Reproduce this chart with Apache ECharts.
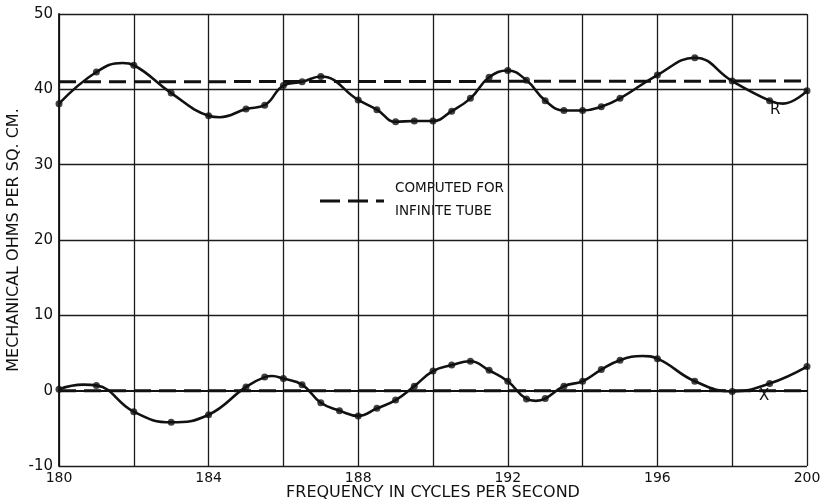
<!DOCTYPE html>
<html><head><meta charset="utf-8">
<script src="https://cdn.jsdelivr.net/npm/echarts@6/dist/echarts.min.js"></script>
<style>html,body{margin:0;padding:0;background:#fff}#c{width:829px;height:503px}</style>
</head><body><div id="c"></div>
<script>
// Measured resistance R (dots)
const freqR = [180,181,182,183,184,185,185.5,186,186.5,187,188,188.5,189,189.5,190,190.5,191,191.5,192,192.5,193,193.5,194,194.5,195,196,197,198,199,200];
const valR  = [38.1,42.3,43.2,39.5,36.5,37.4,37.9,40.5,41.0,41.7,38.6,37.3,35.7,35.8,35.8,37.1,38.8,41.6,42.5,41.2,38.5,37.2,37.2,37.7,38.8,41.9,44.2,41.1,38.5,39.8];
// extra points read on the drawn R curve (peaks/troughs between dots)
const freqRCurve = [181.7,184.3,199.35];
const valRCurve  = [43.5,36.3,38.1];

// Measured reactance X (dots)
const freqX = [180,181,182,183,184,185,185.5,186,186.5,187,187.5,188,188.5,189,189.5,190,190.5,191,191.5,192,192.5,193,193.5,194,194.5,195,196,197,198,199,200];
const valX  = [0.2,0.7,-2.8,-4.2,-3.2,0.5,1.8,1.6,0.8,-1.6,-2.65,-3.35,-2.35,-1.25,0.6,2.6,3.4,3.9,2.7,1.25,-1.1,-1.05,0.6,1.25,2.8,4.05,4.25,1.25,-0.1,0.95,3.2];
// extra points read on the drawn X curve
const freqXCurve = [180.65,185.7,192.75,195.6];
const valXCurve  = [0.8,1.95,-1.35,4.6];

// Computed for infinite tube
const freqComp = [180,200];
const compR = [41.0,41.1];
const compX = [0.0,0.0];

// Axes
const xMin = 180, xMax = 200, xStep = 2, xLabelStep = 4;
const yMin = -10, yMax = 50, yStep = 10;

const xTitle = 'FREQUENCY IN CYCLES PER SECOND';
const yTitle = 'MECHANICAL OHMS PER SQ. CM.';
const legendLines = ['COMPUTED FOR','INFINITE TUBE'];

const FONT = 'DejaVu Sans';
const INK = '#111';

function pairs(xs, ys){ return xs.map((x,i)=>[x, ys[i]]); }
function merged(xs, ys, xe, ye){ return pairs(xs,ys).concat(pairs(xe,ye)).sort((a,b)=>a[0]-b[0]); }

const gridColors = [];
for (let v = yMin; v <= yMax; v += yStep) gridColors.push(v === 0 ? 'rgba(0,0,0,0)' : '#1c1c1c');

const chart = echarts.init(document.getElementById('c'));
chart.setOption({
  animation: false,
  backgroundColor: '#fff',
  grid: { left: 59, right: 22, top: 14, bottom: 37, containLabel: false, outerBoundsMode: 'none' },
  xAxis: {
    type: 'value', min: xMin, max: xMax, interval: xStep,
    name: xTitle, nameLocation: 'middle', nameGap: 19, nameMoveOverlap: false,
    nameTextStyle: { fontFamily: FONT, fontSize: 16, color: INK },
    axisLine: { show: true, lineStyle: { color: INK, width: 1.8 } },
    axisTick: { show: false },
    axisLabel: { margin: 5, fontFamily: FONT, fontSize: 14, color: INK,
      formatter: v => ((v - xMin) % xLabelStep === 0 ? String(v) : '') },
    splitLine: { show: true, lineStyle: { color: '#1c1c1c', width: 1.3 } }
  },
  yAxis: {
    type: 'value', min: yMin, max: yMax, interval: yStep,
    name: yTitle, nameLocation: 'middle', nameGap: 37, nameRotate: 90, nameMoveOverlap: false,
    nameTextStyle: { fontFamily: FONT, fontSize: 16, color: INK },
    axisLine: { show: true, lineStyle: { color: INK, width: 1.8 } },
    axisTick: { show: false },
    axisLabel: { margin: 6, fontFamily: FONT, fontSize: 15, color: INK },
    splitLine: { show: true, lineStyle: { color: gridColors, width: 1.3 } }
  },
  series: [
    { type: 'line', data: pairs(freqComp, compR), showSymbol: false, silent: true,
      lineStyle: { color: INK, width: 3, type: [17, 8] }, z: 3 },
    { type: 'line', data: pairs(freqComp, compX), showSymbol: false, silent: true,
      lineStyle: { color: INK, width: 3, type: [17, 8] }, z: 3 },
    { type: 'line', data: merged(freqR, valR, freqRCurve, valRCurve), smooth: 0.45, showSymbol: false,
      lineStyle: { color: INK, width: 2.6 }, z: 4 },
    { type: 'scatter', data: pairs(freqR, valR), symbolSize: 7, itemStyle: { color: INK }, z: 5 },
    { type: 'line', data: merged(freqX, valX, freqXCurve, valXCurve), smooth: 0.45, showSymbol: false,
      lineStyle: { color: INK, width: 2.6 }, z: 4 },
    { type: 'scatter', data: pairs(freqX, valX), symbolSize: 7, itemStyle: { color: INK }, z: 5 }
  ],
  graphic: [
    { type: 'line', shape: { x1: 320, y1: 201, x2: 384, y2: 201 },
      style: { stroke: INK, lineWidth: 3, lineDash: [20, 8] }, z: 10 },
    { type: 'text', left: 395, top: 181, style: { text: legendLines[0], font: '13.5px "DejaVu Sans"', fill: INK } },
    { type: 'text', left: 395, top: 204, style: { text: legendLines[1], font: '13.5px "DejaVu Sans"', fill: INK } },
    { type: 'text', left: 770, top: 103, style: { text: 'R', font: '15px "DejaVu Sans"', fill: INK } },
    { type: 'text', left: 759, top: 389, style: { text: 'X', font: '15px "DejaVu Sans"', fill: INK } }
  ]
});
</script>
</body></html>
